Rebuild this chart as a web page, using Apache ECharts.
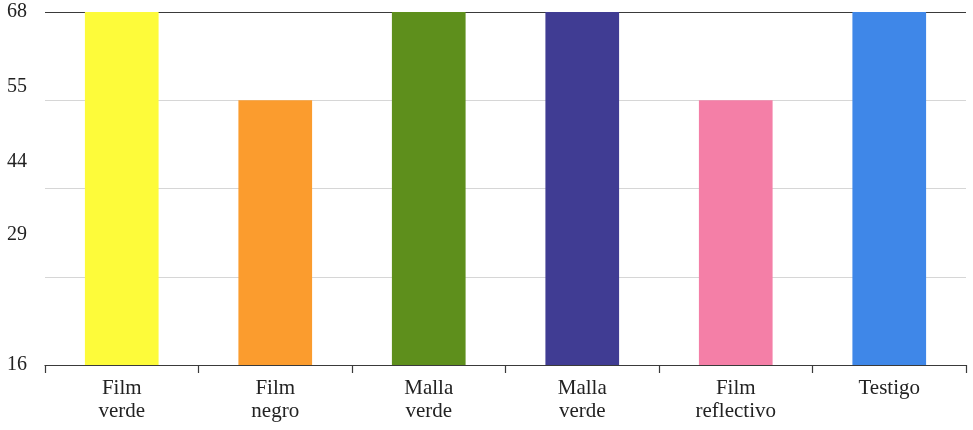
<!DOCTYPE html>
<html>
<head>
<meta charset="utf-8">
<script src="https://cdn.jsdelivr.net/npm/echarts@6/dist/echarts.min.js"></script>
<style>
  html, body { margin: 0; padding: 0; background: #ffffff; }
  #chart { width: 973px; height: 430px; }
</style>
</head>
<body>
<div id="chart"></div>
<script>
// Treatments along the horizontal axis
const categories = ['Film verde', 'Film negro', 'Malla verde', 'Malla verde', 'Film reflectivo', 'Testigo'];
// Measured value per treatment
const values = [68, 55, 68, 68, 55, 68];
// Printed tick labels on the vertical axis, top to bottom
const tickLabels = ['68', '55', '44', '29', '16'];

// Bar fill per treatment
const barColors = ['#fdfb3a', '#fb9c2e', '#5e8f1c', '#403c93', '#f47fa7', '#3f87e8'];
// Relative vertical slots (0 = top, 1 = bottom) where the tick labels are printed
const labelSlots = [0, 0.211, 0.423, 0.631, 1];

const chart = echarts.init(document.getElementById('chart'), null, { renderer: 'canvas' });

const fontFamily = '"Liberation Serif", "DejaVu Serif", serif';

chart.setOption({
  animation: false,
  backgroundColor: '#ffffff',
  grid: { left: 45, right: 7, top: 12, bottom: 65, containLabel: false },
  xAxis: {
    type: 'category',
    position: 'bottom',
    data: categories,
    axisLine: { show: true, onZero: false, lineStyle: { color: '#3a3a3a', width: 1.2 } },
    axisTick: { show: true, alignWithLabel: false, length: 8, lineStyle: { color: '#3a3a3a', width: 1.2 } },
    axisLabel: {
      margin: 12,
      color: '#222',
      fontFamily: fontFamily,
      fontSize: 21,
      lineHeight: 23,
      interval: 0,
      formatter: (v) => v.replace(' ', '\n')
    },
    splitLine: { show: false }
  },
  yAxis: [
    {
      // Data scale: gridlines every 13 units from 16 to 68
      type: 'value',
      min: 16,
      max: 68,
      interval: 13,
      axisLine: { show: false },
      axisTick: { show: false },
      axisLabel: { show: false },
      splitLine: {
        show: true,
        lineStyle: { color: ['#d6d6d6', '#d6d6d6', '#d6d6d6', '#d6d6d6', '#3a3a3a'], width: 1.2 }
      }
    },
    {
      // Label-only axis carrying the printed tick texts
      type: 'value',
      position: 'left',
      inverse: true,
      min: 0,
      max: 1,
      axisLine: { show: false, onZero: false },
      axisTick: { show: false },
      splitLine: { show: false },
      axisLabel: {
        show: true,
        margin: 18,
        color: '#222',
        fontFamily: fontFamily,
        fontSize: 20,
        customValues: labelSlots,
        formatter: (v) => {
          const i = labelSlots.findIndex((s) => Math.abs(s - v) < 1e-6);
          return i >= 0 ? tickLabels[i] : '';
        }
      }
    }
  ],
  series: [
    {
      type: 'bar',
      yAxisIndex: 0,
      data: values,
      barWidth: '48%',
      itemStyle: { color: (p) => barColors[p.dataIndex] }
    }
  ]
});
</script>
</body>
</html>
